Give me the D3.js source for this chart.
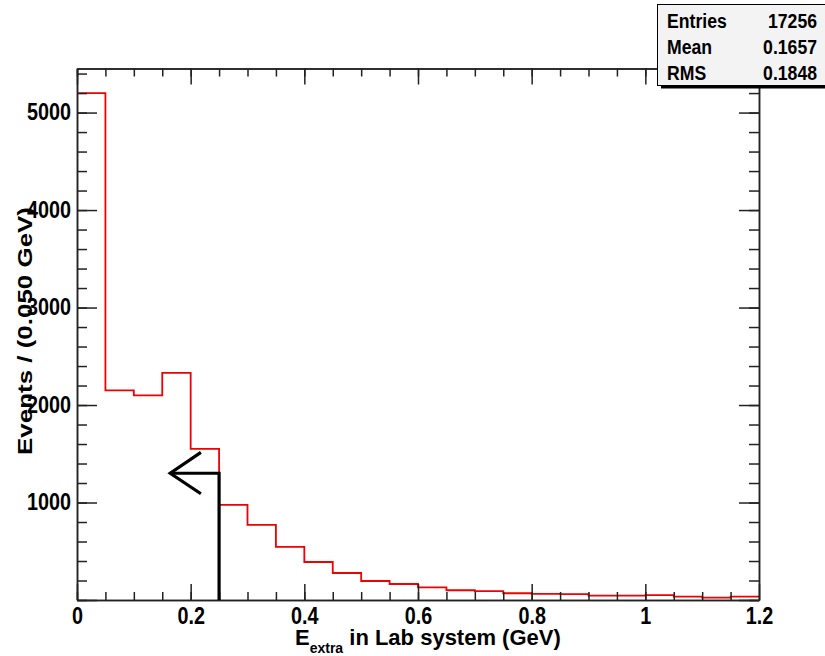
<!DOCTYPE html>
<html>
<head>
<meta charset="utf-8">
<style>
    body { margin: 0; background: #fff; }
    svg text { font-family: "Liberation Sans", Arial, sans-serif; font-weight: bold; fill: #000; }
    .axis path, .axis line { stroke: #222; stroke-width: 1.5; }
    .axis text { font-size: 23px; }
</style>
</head>
<body>
<div id="hist"></div>
<script src="https://d3js.org/d3.v7.min.js"></script>
<script>
    // E_extra histogram, 0.05 GeV bins from 0 to 1.2 GeV
    var binWidth = 0.05;
    var xRange = [0, 1.2];
    var counts = [5200, 2150, 2100, 2330, 1550, 975, 770, 545, 390, 277, 195, 164,
                  130, 100, 92, 69, 62, 60, 44, 44, 51, 34, 24, 34];

    // tick values
    var xMajor = [0, 0.2, 0.4, 0.6, 0.8, 1, 1.2];
    var yMajor = [0, 1000, 2000, 3000, 4000, 5000];
    var yLabels = [1000, 2000, 3000, 4000, 5000];

    // stats box
    var statNames = ["Entries", "Mean", "RMS"];
    var statValues = ["17256", "0.1657", "0.1848"];

    // cut arrow (E_extra < 0.25)
    var cutValue = 0.25;
    var arrowTop = 1300;
    var arrowTip = 0.164;

    var width = 825, height = 656;
    var padL = 77, padR = 759, padT = 68.5, padB = 600;

    var svg = d3.select("#hist").append("svg")
        .attr("width", width)
        .attr("height", height);

    var x = d3.scaleLinear().domain(xRange).range([padL, padR]);
    var y = d3.scaleLinear().domain([0, 5452]).range([padB, padT]);

    var xMinor = d3.range(0, 24).map(function(i) { return +(i * binWidth).toFixed(2); });
    var yMinor = d3.range(0, 28).map(function(i) { return i * 200; });

    // squeeze text horizontally, the original uses a narrow font
    function squeeze(sel, k) {
        sel.each(function() {
            var w = this.getComputedTextLength();
            if (w > 0) {
                d3.select(this).attr("textLength", w * k).attr("lengthAdjust", "spacingAndGlyphs");
            }
        });
    }

    // histogram outline
    var stepPts = [];
    counts.forEach(function(c, i) {
        stepPts.push([x(i * binWidth), y(c)]);
        stepPts.push([x((i + 1) * binWidth), y(c)]);
    });
    svg.append("path")
        .attr("d", d3.line()(stepPts))
        .attr("fill", "none")
        .attr("stroke", "#f00000")
        .attr("stroke-width", 1.8);

    // axes: minor ticks first, then major
    svg.append("g").attr("class", "axis")
        .attr("transform", "translate(0," + padB + ")")
        .call(d3.axisBottom(x).tickValues(xMinor).tickSize(-8).tickSizeOuter(0).tickFormat(""));
    var xAxis = svg.append("g").attr("class", "axis")
        .attr("transform", "translate(0," + padB + ")")
        .call(d3.axisBottom(x).tickValues(xMajor).tickSize(-16).tickSizeOuter(0).tickPadding(8)
            .tickFormat(function(d) { return d3.format("")(d); }));
    svg.append("g").attr("class", "axis")
        .attr("transform", "translate(0," + padT + ")")
        .call(d3.axisTop(x).tickValues(xMinor).tickSize(-8).tickSizeOuter(0).tickFormat(""));
    svg.append("g").attr("class", "axis")
        .attr("transform", "translate(0," + padT + ")")
        .call(d3.axisTop(x).tickValues(xMajor).tickSize(-16).tickSizeOuter(0).tickFormat(""));

    svg.append("g").attr("class", "axis")
        .attr("transform", "translate(" + padL + ",0)")
        .call(d3.axisLeft(y).tickValues(yMinor).tickSize(-10).tickSizeOuter(0).tickFormat(""));
    var yAxis = svg.append("g").attr("class", "axis")
        .attr("transform", "translate(" + padL + ",0)")
        .call(d3.axisLeft(y).tickValues(yMajor).tickSize(-20).tickSizeOuter(0).tickPadding(6)
            .tickFormat(function(d) { return yLabels.indexOf(d) >= 0 ? d3.format("d")(d) : ""; }));
    svg.append("g").attr("class", "axis")
        .attr("transform", "translate(" + padR + ",0)")
        .call(d3.axisRight(y).tickValues(yMinor).tickSize(-10).tickSizeOuter(0).tickFormat(""));
    svg.append("g").attr("class", "axis")
        .attr("transform", "translate(" + padR + ",0)")
        .call(d3.axisRight(y).tickValues(yMajor).tickSize(-20).tickSizeOuter(0).tickFormat(""));

    squeeze(xAxis.selectAll("text"), 0.86);
    squeeze(yAxis.selectAll("text"), 0.86);

    // the cut arrow
    var arrow = svg.append("g")
        .attr("stroke", "#000")
        .attr("stroke-width", 3.2)
        .attr("fill", "none")
        .attr("stroke-linecap", "butt");
    arrow.append("path")
        .attr("d", d3.line()([[x(cutValue), y(0)], [x(cutValue), y(arrowTop)], [x(arrowTip), y(arrowTop)]]));
    arrow.append("path")
        .attr("d", d3.line()([[x(arrowTip + 0.054), y(arrowTop + 215)], [x(arrowTip), y(arrowTop)],
                              [x(arrowTip + 0.054), y(arrowTop - 210)]]));

    // axis titles
    var xt = svg.append("text")
        .attr("x", 295)
        .attr("y", 645)
        .style("font-size", "22px");
    xt.append("tspan").text("E");
    xt.append("tspan").attr("dy", 8).style("font-size", "14px").text("extra");
    xt.append("tspan").attr("dy", -8).text(" in Lab system (GeV)");

    svg.append("text")
        .attr("transform", "translate(32,331) rotate(-90)")
        .attr("text-anchor", "middle")
        .attr("textLength", 248)
        .attr("lengthAdjust", "spacingAndGlyphs")
        .style("font-size", "21px")
        .text("Events / (0.050 GeV)");

    // stats box
    var box = svg.append("g");
    box.append("rect")
        .attr("x", 661).attr("y", 85.5)
        .attr("width", 164).attr("height", 3)
        .attr("fill", "#000");
    box.append("rect")
        .attr("x", 657.5).attr("y", 4.5)
        .attr("width", 170).attr("height", 81)
        .attr("fill", "#f3f3f3")
        .attr("stroke", "#000")
        .attr("stroke-width", 1);
    statNames.forEach(function(n, i) {
        box.append("text")
            .attr("transform", "translate(667," + (28 + i * 26) + ") scale(0.84,1)")
            .style("font-size", "21px")
            .text(n);
        box.append("text")
            .attr("transform", "translate(817," + (28 + i * 26) + ") scale(0.84,1)")
            .attr("text-anchor", "end")
            .style("font-size", "21px")
            .text(statValues[i]);
    });
</script>
</body>
</html>
